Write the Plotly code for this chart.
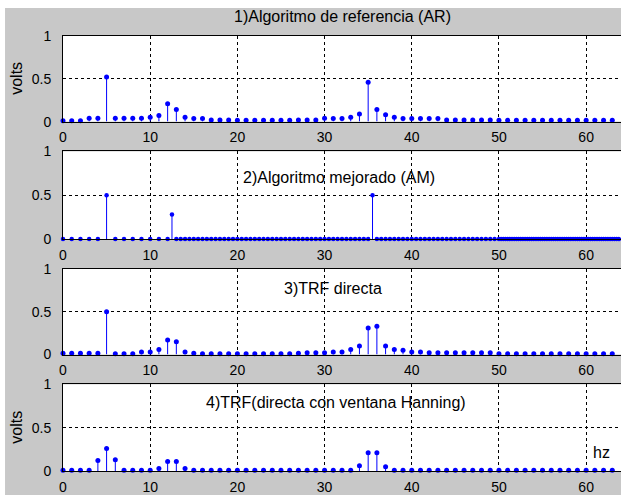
import numpy as np
import plotly.graph_objects as go

# Frequency bins (Hz) for the FFT-based spectra
freq = list(range(64))

# 1) Reference algorithm (AR)
ar_vals = [0.01, 0.01, 0.01, 0.04, 0.04, 0.52, 0.04, 0.04, 0.04, 0.04,
           0.05, 0.07, 0.21, 0.14, 0.05, 0.035, 0.035, 0.02, 0.02, 0.02,
           0.015, 0.015, 0.015, 0.015, 0.015, 0.015, 0.015, 0.02, 0.02, 0.02,
           0.04, 0.035, 0.035, 0.05, 0.09, 0.46, 0.14, 0.08, 0.05, 0.035,
           0.035, 0.035, 0.035, 0.035, 0.02, 0.02, 0.02, 0.02, 0.02, 0.02,
           0.015, 0.015, 0.015, 0.015, 0.015, 0.015, 0.015, 0.015, 0.015, 0.015,
           0.015, 0.015, 0.015, 0.015]

# 2) Improved algorithm (AM): finer frequency grid, three detected components
am_freq = list(np.concatenate([np.arange(0, 13, 1.0),
                               np.arange(12.5, 50, 0.5),
                               np.arange(50, 64, 0.25)]))
am_peaks = {5.0: 0.5, 12.5: 0.28, 35.5: 0.5}
am_vals = [am_peaks.get(float(f), 0.0) for f in am_freq]

# 3) Direct FFT
td_vals = [0.015, 0.015, 0.015, 0.015, 0.015, 0.5, 0.01, 0.01, 0.01, 0.03,
           0.03, 0.06, 0.17, 0.15, 0.03, 0.015, 0.008, 0.008, 0.008, 0.008,
           0.008, 0.008, 0.008, 0.008, 0.008, 0.008, 0.01, 0.015, 0.02, 0.02,
           0.02, 0.03, 0.03, 0.06, 0.1, 0.31, 0.33, 0.1, 0.06, 0.05,
           0.03, 0.03, 0.02, 0.02, 0.02, 0.02, 0.02, 0.02, 0.02, 0.02,
           0.01, 0.01, 0.01, 0.01, 0.01, 0.01, 0.01, 0.01, 0.01, 0.01,
           0.01, 0.01, 0.01, 0.01]

# 4) Direct FFT with Hanning window
han_vals = [0.01, 0.01, 0.01, 0.01, 0.12, 0.26, 0.13, 0.01, 0.01, 0.01,
            0.01, 0.03, 0.11, 0.11, 0.03, 0.01, 0.01, 0.01, 0.01, 0.01,
            0.01, 0.01, 0.01, 0.01, 0.01, 0.01, 0.01, 0.01, 0.01, 0.01,
            0.01, 0.01, 0.01, 0.01, 0.06, 0.21, 0.21, 0.05, 0.01, 0.01,
            0.01, 0.01, 0.01, 0.01, 0.01, 0.01, 0.01, 0.01, 0.01, 0.01,
            0.01, 0.01, 0.01, 0.01, 0.01, 0.01, 0.01, 0.01, 0.01, 0.01,
            0.01, 0.01, 0.01, 0.01]

panels = [
    (freq, ar_vals, "1)Algoritmo de referencia (AR)"),
    (am_freq, am_vals, "2)Algoritmo mejorado (AM)"),
    (freq, td_vals, "3)TRF directa"),
    (freq, han_vals, "4)TRF(directa con ventana Hanning)"),
]

x_ticks = [0, 10, 20, 30, 40, 50, 60]
x_tick_text = ["0", "10", "20", "30", "40", "50", "60"]
y_ticks = [0, 0.5, 1]
y_tick_text = ["0", "0.5", "1"]

domains = [(0.8032, 1.0), (0.5332, 0.7346), (0.2677, 0.4645), (0.0, 0.1991)]

BLUE = "#0000ff"
FONT = "Liberation Sans, Arial, sans-serif"
GRAY = "#c8c8c8"

fig = go.Figure()
layout = dict(
    width=621, height=495,
    margin=dict(l=63, r=0, t=36, b=22),
    paper_bgcolor=GRAY, plot_bgcolor="white",
    showlegend=False,
    font=dict(family=FONT, size=16, color="black"),
)

for i, (fx, fy, title) in enumerate(panels):
    n = i + 1
    xa = "x" if n == 1 else f"x{n}"
    ya = "y" if n == 1 else f"y{n}"
    sx, sy = [], []
    for a, b in zip(fx, fy):
        sx += [a, a, None]
        sy += [0, b, None]
    fig.add_trace(go.Scatter(x=sx, y=sy, mode="lines", xaxis=xa, yaxis=ya,
                             line=dict(color=BLUE, width=1), hoverinfo="skip",
                             cliponaxis=False))
    fig.add_trace(go.Scatter(x=fx, y=fy, mode="markers", xaxis=xa, yaxis=ya,
                             marker=dict(color=BLUE, size=5 if n != 2 else 4.5),
                             cliponaxis=False))
    xkey = "xaxis" if n == 1 else f"xaxis{n}"
    ykey = "yaxis" if n == 1 else f"yaxis{n}"
    layout[xkey] = dict(domain=[0, 1], anchor=ya, range=[0, 64],
                        tickvals=x_ticks, ticktext=x_tick_text,
                        showgrid=True, gridcolor="black", griddash="3px,3px",
                        gridwidth=1, zeroline=False,
                        showline=True, linecolor="black", linewidth=1,
                        mirror=True, ticks="", ticklabelstandoff=3,
                        tickfont=dict(size=14))
    layout[ykey] = dict(domain=list(domains[i]), anchor=xa, range=[0, 1],
                        tickvals=y_ticks, ticktext=y_tick_text,
                        showgrid=True, gridcolor="black", griddash="3px,3px",
                        gridwidth=1, zeroline=False,
                        showline=True, linecolor="black", linewidth=1,
                        ticks="", ticklabelstandoff=8,
                        tickfont=dict(size=14))

annotations = [
    dict(text=panels[0][2], x=32, xref="x", y=1.0458, yref="paper",
         showarrow=False, xanchor="center", yanchor="middle"),
    dict(text=panels[1][2], x=31.7, xref="x2", y=0.70, yref="y2",
         showarrow=False, xanchor="center", yanchor="middle"),
    dict(text=panels[2][2], x=31.0, xref="x3", y=0.77, yref="y3",
         showarrow=False, xanchor="center", yanchor="middle"),
    dict(text=panels[3][2], x=31.3, xref="x4", y=0.79, yref="y4",
         showarrow=False, xanchor="center", yanchor="middle"),
    dict(text="hz", x=61.8, xref="x4", y=0.21, yref="y4",
         showarrow=False, xanchor="center", yanchor="middle"),
    dict(text="volts", x=-0.0824, xref="paper", y=0.5, yref="y",
         showarrow=False, textangle=-90, xanchor="center", yanchor="middle"),
    dict(text="volts", x=-0.0824, xref="paper", y=0.5, yref="y4",
         showarrow=False, textangle=-90, xanchor="center", yanchor="middle"),
]
layout["annotations"] = annotations

# White window border strips along the top and left edge
layout["shapes"] = [
    dict(type="rect", xref="paper", yref="paper", x0=-0.2, x1=1.1,
         y0=1.0641, y1=1.2, fillcolor="white", line=dict(width=0)),
    dict(type="rect", xref="paper", yref="paper", x0=-0.2, x1=-0.1039,
         y0=-0.2, y1=1.2, fillcolor="white", line=dict(width=0)),
]

fig.update_layout(**layout)
fig.write_html("out.html")
